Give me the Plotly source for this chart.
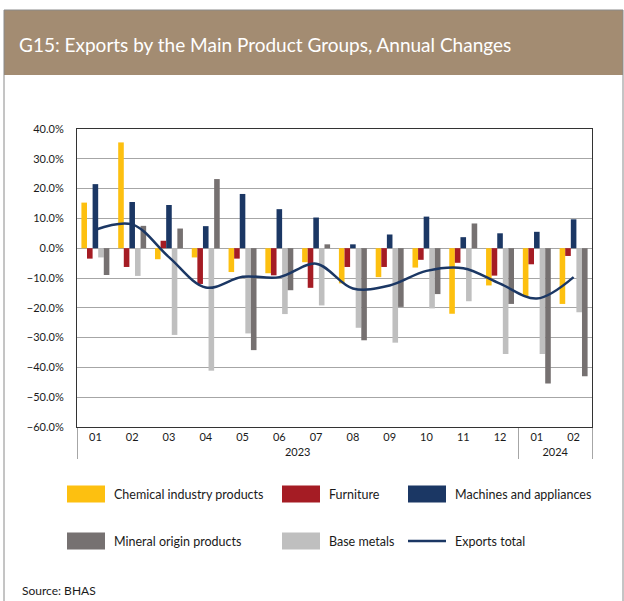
import plotly.graph_objects as go

# ---- data ----
months = ["01", "02", "03", "04", "05", "06", "07", "08", "09", "10", "11", "12", "01", "02"]
years = ["2023"] * 12 + ["2024"] * 2
series_names = ["Chemical industry products", "Furniture", "Machines and appliances",
                "Mineral origin products", "Base metals", "Exports total"]
chemical = [15.3, 35.5, -3.7, -3.1, -8.0, -8.4, -4.7, -11.8, -9.7, -6.5, -22.0, -12.5, -16.2, -18.7]
furniture = [-3.5, -6.3, 2.5, -12.0, -3.5, -9.1, -13.3, -6.3, -6.3, -3.9, -4.9, -9.2, -5.4, -2.6]
machines = [21.5, 15.5, 14.5, 7.4, 18.2, 13.1, 10.3, 1.3, 4.6, 10.6, 3.7, 5.0, 5.5, 9.7]
base_metals = [-3.1, -9.3, -29.1, -41.1, -28.6, -22.1, -19.2, -26.7, -31.7, -20.2, -17.8, -35.5, -35.5, -21.5]
mineral = [-9.0, 7.5, 6.6, 23.2, -34.2, -14.1, 1.3, -30.9, -19.7, -15.4, 8.3, -18.7, -45.4, -43.0]
total = [6.2, 8.0, -3.0, -13.2, -9.6, -9.7, -5.2, -13.5, -12.5, -7.6, -6.7, -11.9, -16.9, -9.7]

C_YEL = "#FDC010"
C_RED = "#A51C24"
C_NAVY = "#1B3764"
C_DGR = "#767171"
C_LGR = "#BFBFBF"
BAND = "#A38C72"
FONT = "Lato"

x = [years, months]

fig = go.Figure()
for name, vals, col in [
    (series_names[0], chemical, C_YEL),
    (series_names[1], furniture, C_RED),
    (series_names[2], machines, C_NAVY),
    (series_names[4], base_metals, C_LGR),
    (series_names[3], mineral, C_DGR),
]:
    fig.add_trace(go.Bar(x=x, y=vals, name=name, marker=dict(color=col, line=dict(width=0)),
                         showlegend=False))
fig.add_trace(go.Scatter(x=x, y=total, name=series_names[5], mode="lines",
                         line=dict(color=C_NAVY, width=2.5, shape="spline"), showlegend=False))

# plot area in pixels
L, R, T, B = 77, 592, 129, 427
W, H = 624, 601


def xp(px):
    return (px - L) / (R - L)


def yp(py):
    return (B - py) / (B - T)


shapes = [
    # title band
    dict(type="rect", xref="paper", yref="paper", x0=xp(4), x1=xp(623), y0=yp(75), y1=yp(10),
         fillcolor=BAND, line=dict(width=0), layer="below"),
    # card borders
    dict(type="line", xref="paper", yref="paper", x0=xp(4), x1=xp(623), y0=yp(10), y1=yp(10),
         line=dict(color="#8a8a8a", width=1)),
    dict(type="line", xref="paper", yref="paper", x0=xp(4), x1=xp(4), y0=yp(10), y1=yp(601),
         line=dict(color="#8a8a8a", width=1)),
    dict(type="line", xref="paper", yref="paper", x0=xp(623), x1=xp(623), y0=yp(10), y1=yp(601),
         line=dict(color="#8a8a8a", width=1)),
]

annotations = [
    dict(text="G15: Exports by the Main Product Groups, Annual Changes", xref="paper", yref="paper",
         x=xp(17), y=yp(45), xanchor="left", yanchor="middle", showarrow=False,
         font=dict(family=FONT, size=19, color="white")),
    dict(text="Source: BHAS", xref="paper", yref="paper", x=xp(20), y=yp(590),
         xanchor="left", yanchor="middle", showarrow=False,
         font=dict(family=FONT, size=12, color="#1a1a1a")),
]

# manual legend
legend_items = [
    (series_names[0], C_YEL, "bar", 67, 494),
    (series_names[1], C_RED, "bar", 282, 494),
    (series_names[2], C_NAVY, "bar", 408, 494),
    (series_names[3], C_DGR, "bar", 67, 541),
    (series_names[4], C_LGR, "bar", 282, 541),
    (series_names[5], C_NAVY, "line", 408, 541),
]
for name, col, kind, sx, cy in legend_items:
    if kind == "bar":
        shapes.append(dict(type="rect", xref="paper", yref="paper", x0=xp(sx), x1=xp(sx + 38),
                           y0=yp(cy + 8.5), y1=yp(cy - 8.5), fillcolor=col, line=dict(width=0)))
    else:
        shapes.append(dict(type="line", xref="paper", yref="paper", x0=xp(sx), x1=xp(sx + 38),
                           y0=yp(cy), y1=yp(cy), line=dict(color=col, width=2.5)))
    annotations.append(dict(text=name, xref="paper", yref="paper", x=xp(sx + 45), y=yp(cy),
                            xanchor="left", yanchor="middle", showarrow=False,
                            font=dict(family=FONT, size=12.5, color="#1a1a1a")))

fig.update_layout(
    width=W, height=H,
    margin=dict(l=L, r=W - R, t=T, b=H - B, pad=0),
    paper_bgcolor="white", plot_bgcolor="white",
    barmode="group", bargap=0.24, bargroupgap=0,
    shapes=shapes, annotations=annotations,
    showlegend=False,
    font=dict(family=FONT, size=11, color="#1a1a1a"),
)
fig.update_yaxes(range=[-60, 40], dtick=10, tickformat=".1f", ticksuffix="%",
                 showgrid=True, gridcolor="#A6A6A6", gridwidth=1,
                 zeroline=True, zerolinecolor="#A6A6A6", zerolinewidth=1,
                 showline=True, mirror=True, linecolor="#333333", linewidth=1,
                 ticks="", ticklabelstandoff=10, tickfont=dict(size=11))
fig.update_xaxes(type="multicategory", showline=True, mirror=True, linecolor="#333333", linewidth=1,
                 showdividers=True, dividercolor="#A6A6A6", dividerwidth=1,
                 ticks="", tickfont=dict(size=11), showgrid=False)

fig.write_html("out.html", config={"displayModeBar": False},
               post_script="document.body.style.margin='0';document.body.style.overflow='hidden';")
